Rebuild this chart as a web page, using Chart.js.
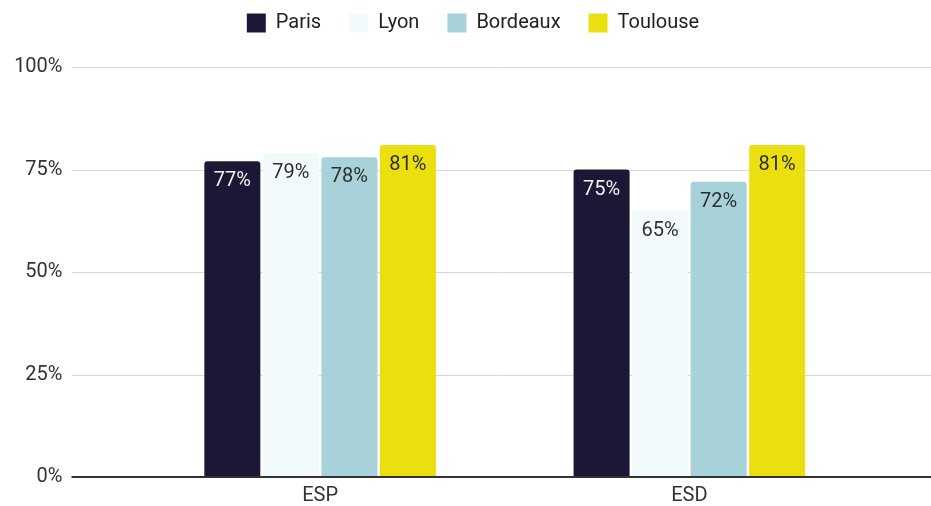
<!DOCTYPE html>
<html>
<head>
<meta charset="utf-8">
<script src="https://cdn.jsdelivr.net/npm/chart.js@4.4.0/dist/chart.umd.js"></script>
<style>
  html, body { margin: 0; padding: 0; background: #fff; }
  #wrap { width: 931px; height: 506px; }
</style>
</head>
<body>
<div id="wrap"><canvas id="chart" width="931" height="506"></canvas></div>
<script>
const categories = ['ESP', 'ESD'];
const cities = ['Paris', 'Lyon', 'Bordeaux', 'Toulouse'];
const paris = [77, 75];
const lyon = [79, 65];
const bordeaux = [78, 72];
const toulouse = [81, 81];
const yTicks = [0, 25, 50, 75, 100];

const barColors = ['#1b1835', '#f3fafc', '#a8d2d9', '#ecdf10'];
const labelColors = ['#f0f0f0', '#2e2e2e', '#2e2e2e', '#2e2e2e'];
const FONT = 'Roboto, "Liberation Sans", Arial, sans-serif';
const FONT_SIZE = 20;

// grid lines run past the plot area, like the original sheet chart
const wideGrid = {
    id: 'wideGrid',
    beforeDatasetsDraw(chart) {
        const { ctx, chartArea, scales } = chart;
        ctx.save();
        ctx.strokeStyle = '#d8d8d8';
        ctx.lineWidth = 1;
        yTicks.forEach(v => {
            if (v === 0) return;
            const y = Math.round(scales.y.getPixelForValue(v)) + 0.5;
            ctx.beginPath();
            ctx.moveTo(chartArea.left - 64, y);
            ctx.lineTo(chart.width, y);
            ctx.stroke();
        });
        ctx.restore();
    },
    afterDatasetsDraw(chart) {
        const { ctx, chartArea, scales } = chart;
        const y = Math.round(scales.y.getPixelForValue(0));
        ctx.save();
        ctx.strokeStyle = '#333333';
        ctx.lineWidth = 2;
        ctx.beginPath();
        ctx.moveTo(chartArea.left - 64, y);
        ctx.lineTo(chart.width, y);
        ctx.stroke();
        ctx.restore();
    }
};

// value labels inside the top of each bar
const barLabels = {
    id: 'barLabels',
    afterDatasetsDraw(chart) {
        const { ctx } = chart;
        ctx.save();
        ctx.font = FONT_SIZE + 'px ' + FONT;
        ctx.textAlign = 'center';
        ctx.textBaseline = 'middle';
        chart.data.datasets.forEach((ds, i) => {
            const meta = chart.getDatasetMeta(i);
            ctx.fillStyle = labelColors[i];
            meta.data.forEach((bar, j) => {
                ctx.fillText(ds.data[j] + '%', bar.x, bar.y + 20);
            });
        });
        ctx.restore();
    }
};

// nudge the legend up and to the right, where the original has it
const legendShift = {
    id: 'legendShift',
    afterLayout(chart) {
        const lg = chart.legend;
        if (!lg) return;
        lg.top -= 24;
        lg.bottom -= 24;
        lg.left += 30;
        lg.right += 30;
    }
};

const seriesValues = [paris, lyon, bordeaux, toulouse];

new Chart(document.getElementById('chart'), {
    type: 'bar',
    data: {
        labels: categories,
        datasets: cities.map((name, i) => ({
            label: name,
            data: seriesValues[i],
            backgroundColor: barColors[i],
            borderWidth: 0,
            borderRadius: { topLeft: 3, topRight: 3 },
            borderSkipped: 'start',
            categoryPercentage: 0.634,
            barPercentage: 0.957
        }))
    },
    options: {
        responsive: false,
        animation: false,
        layout: { padding: { left: 12, right: 57, top: 0, bottom: 0 } },
        plugins: {
            legend: {
                position: 'top',
                labels: {
                    boxWidth: 19,
                    boxHeight: 19,
                    padding: 28,
                    color: '#222222',
                    font: { family: FONT, size: FONT_SIZE }
                }
            },
            tooltip: { enabled: false }
        },
        scales: {
            x: {
                grid: { display: false, drawTicks: false },
                border: { display: false },
                ticks: {
                    padding: 7,
                    color: '#333333',
                    font: { family: FONT, size: FONT_SIZE }
                },
                afterFit(scale) {
                    scale.height = 29;
                }
            },
            y: {
                min: 0,
                max: 100,
                grid: { display: false, drawTicks: false },
                border: { display: false },
                ticks: {
                    stepSize: 25,
                    padding: 73,
                    color: '#333333',
                    font: { family: FONT, size: FONT_SIZE },
                    callback: v => v + '%'
                },
                afterFit(scale) {
                    // wide gutter between labels and bars, without the
                    // vertical padding that ticks.padding would add
                    scale.width = 123.5;
                    scale.paddingTop = 67;
                    scale.paddingBottom = 0;
                }
            }
        }
    },
    plugins: [wideGrid, barLabels, legendShift]
});
</script>
</body>
</html>
